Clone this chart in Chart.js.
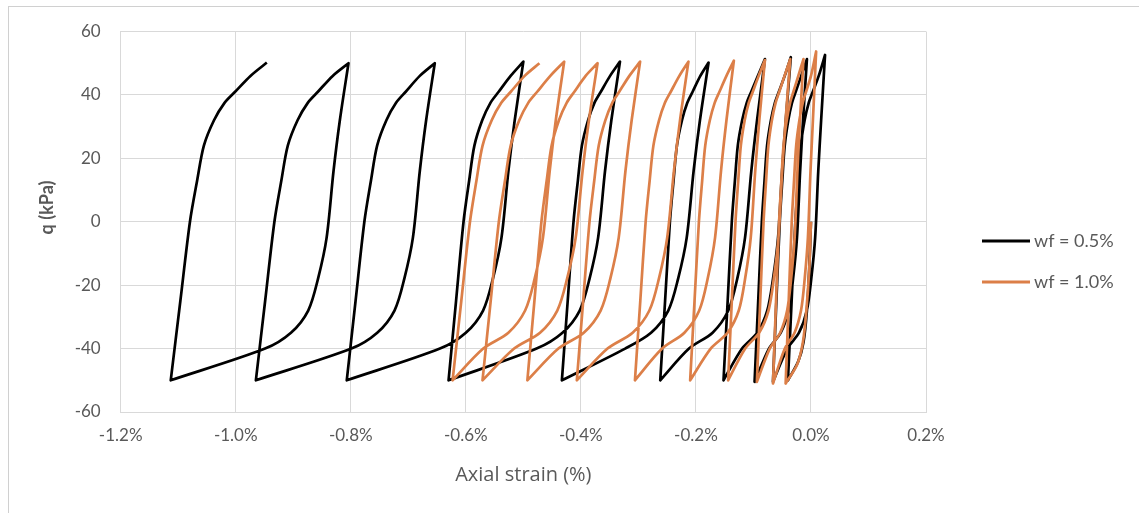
<!DOCTYPE html>
<html>
<head>
<meta charset="utf-8">
<script src="https://cdn.jsdelivr.net/npm/chart.js@4.4.1/dist/chart.umd.min.js"></script>
<style>
html, body { margin: 0; padding: 0; background: #fff; overflow: hidden; }
#frame { position: absolute; left: 8px; top: 6px; width: 1200px; height: 600px; border: 1px solid #d0d0d0; }
#wrap { position: absolute; left: 0; top: 0; width: 1139px; height: 513px; }
</style>
</head>
<body>
<div id="frame"></div>
<div id="wrap"><canvas id="chart" width="1139" height="513"></canvas></div>
<script>
// ===== Cyclic loading loops: deviator stress vs axial strain =====

const seriesLabels = ['wf = 0.5%', 'wf = 1.0%'];
const seriesColors = ['#000000', '#dc7f48'];

const xTicks = [-1.2, -1.0, -0.8, -0.6, -0.4, -0.2, 0.0, 0.2];
const yTicks = [-60, -40, -20, 0, 20, 40, 60];

// axial strain (%) for wf = 0.5%, in test order (loops drift to the left)
const blackStrain = [
    0.000, -0.003, -0.007, -0.013, -0.022,
    -0.040, -0.0336, -0.0271, -0.0223, -0.0177, -0.0110, -0.0039, 0.0032, 0.0135, 0.0245,
    0.0177, 0.0127, 0.0073, 0.0005, -0.0072, -0.0208, -0.0411, -0.066,
    -0.0601, -0.0542, -0.0498, -0.0456, -0.0394, -0.0330, -0.0265, -0.0170, -0.007,
    -0.0138, -0.0188, -0.0243, -0.0311, -0.0389, -0.0525, -0.0730, -0.098,
    -0.0917, -0.0854, -0.0807, -0.0763, -0.0696, -0.0627, -0.0558, -0.0457, -0.035,
    -0.0438, -0.0502, -0.0572, -0.0660, -0.0760, -0.0935, -0.1198, -0.152,
    -0.1448, -0.1376, -0.1322, -0.1272, -0.1196, -0.1117, -0.1038, -0.0922, -0.080,
    -0.0937, -0.1037, -0.1146, -0.1282, -0.1437, -0.171, -0.212, -0.262,
    -0.2536, -0.2452, -0.2389, -0.2330, -0.2242, -0.2150, -0.2057, -0.1923, -0.178,
    -0.193, -0.204, -0.216, -0.231, -0.248, -0.278, -0.323, -0.433,
    -0.4229, -0.4128, -0.4052, -0.3982, -0.3875, -0.3764, -0.3653, -0.3492, -0.332,
    -0.347, -0.358, -0.370, -0.385, -0.402, -0.432, -0.477, -0.630,
    -0.617, -0.604, -0.5942, -0.5851, -0.5715, -0.5572, -0.5429, -0.5221, -0.500,
    -0.515, -0.526, -0.538, -0.553, -0.570, -0.600, -0.645, -0.807,
    -0.7917, -0.7764, -0.7649, -0.7542, -0.7381, -0.7213, -0.7045, -0.6800, -0.654,
    -0.669, -0.680, -0.692, -0.707, -0.724, -0.754, -0.799, -0.965,
    -0.9489, -0.9328, -0.9207, -0.9095, -0.8925, -0.8748, -0.8571, -0.8314, -0.804,
    -0.819, -0.830, -0.842, -0.857, -0.874, -0.904, -0.949, -1.113,
    -1.0963, -1.0796, -1.0671, -1.0554, -1.0378, -1.0195, -1.0011, -0.9744, -0.946
];
// q (kPa) for wf = 0.5%
const blackQ = [
    0, -15, -28, -38, -44,
    -50, -25, 0, 13, 24, 32, 37.5, 41, 46, 52.6,
    32, 16, -5, -18, -28, -35, -40, -50.5,
    -25, 0, 13, 24, 32, 37.5, 41, 46, 51.3,
    32, 16, -5, -18, -28, -35, -40, -50.5,
    -25, 0, 13, 24, 32, 37.5, 41, 46, 51.9,
    32, 16, -5, -18, -28, -35, -40, -50,
    -25, 0, 13, 24, 32, 37.5, 41, 46, 51.3,
    32, 16, -5, -18, -28, -35, -40, -50,
    -25, 0, 13, 24, 32, 37.5, 41, 46, 50.2,
    32, 16, -5, -18, -28, -35, -40, -50,
    -25, 0, 13, 24, 32, 37.5, 41, 46, 50.5,
    32, 16, -5, -18, -28, -35, -40, -50,
    -25, 0, 13, 24, 32, 37.5, 41, 46, 50.5,
    32, 16, -5, -18, -28, -35, -40, -50,
    -25, 0, 13, 24, 32, 37.5, 41, 46, 50,
    32, 16, -5, -18, -28, -35, -40, -50,
    -25, 0, 13, 24, 32, 37.5, 41, 46, 50,
    32, 16, -5, -18, -28, -35, -40, -50,
    -25, 0, 13, 24, 32, 37.5, 41, 46, 50.2
];

// axial strain (%) for wf = 1.0%
const orangeStrain = [
    0.000, -0.003, -0.008, -0.014, -0.024,
    -0.044, -0.0387, -0.0334, -0.0294, -0.0257, -0.0201, -0.0143, -0.0085, 0.0000, 0.009,
    0.0034, -0.0008, -0.0053, -0.0109, -0.0173, -0.0285, -0.0454, -0.066,
    -0.0607, -0.0554, -0.0514, -0.0477, -0.0421, -0.0363, -0.0305, -0.0220, -0.013,
    -0.0191, -0.0235, -0.0284, -0.0345, -0.0414, -0.0535, -0.0717, -0.094,
    -0.0882, -0.0824, -0.0780, -0.0740, -0.0679, -0.0615, -0.0551, -0.0459, -0.036,
    -0.0441, -0.0500, -0.0565, -0.0646, -0.0738, -0.090, -0.1143, -0.144,
    -0.1376, -0.1312, -0.1264, -0.1219, -0.1152, -0.1082, -0.1011, -0.0909, -0.080,
    -0.0898, -0.0969, -0.1047, -0.1145, -0.1255, -0.145, -0.1743, -0.210,
    -0.2024, -0.1948, -0.1891, -0.1838, -0.1758, -0.1674, -0.1591, -0.1469, -0.134,
    -0.1469, -0.1564, -0.1667, -0.1796, -0.1942, -0.220, -0.2587, -0.306,
    -0.2967, -0.2874, -0.2804, -0.2739, -0.2641, -0.2539, -0.2437, -0.2288, -0.213,
    -0.2276, -0.2382, -0.2499, -0.2644, -0.2809, -0.310, -0.3537, -0.407,
    -0.396, -0.385, -0.3767, -0.369, -0.3575, -0.3454, -0.3333, -0.3157, -0.297,
    -0.3117, -0.3225, -0.3342, -0.3489, -0.3656, -0.395, -0.4391, -0.493,
    -0.4808, -0.4686, -0.4594, -0.4509, -0.4381, -0.4247, -0.4113, -0.3917, -0.371,
    -0.386, -0.397, -0.409, -0.424, -0.441, -0.471, -0.516, -0.571,
    -0.5568, -0.5426, -0.5319, -0.5220, -0.5071, -0.4915, -0.4759, -0.4531, -0.429,
    -0.4436, -0.4542, -0.4659, -0.4804, -0.4969, -0.526, -0.5697, -0.623,
    -0.6079, -0.5928, -0.5815, -0.5709, -0.5550, -0.5384, -0.5218, -0.4977, -0.472
];
// q (kPa) for wf = 1.0%
const orangeQ = [
    0, -15, -28, -38, -45,
    -51, -25, 0, 13, 24, 32, 37.5, 41, 46, 53.7,
    32, 16, -5, -18, -28, -35, -40, -51,
    -25, 0, 13, 24, 32, 37.5, 41, 46, 51.3,
    32, 16, -5, -18, -28, -35, -40, -50.5,
    -25, 0, 13, 24, 32, 37.5, 41, 46, 51.3,
    32, 16, -5, -18, -28, -35, -40, -50,
    -25, 0, 13, 24, 32, 37.5, 41, 46, 51,
    32, 16, -5, -18, -28, -35, -40, -50,
    -25, 0, 13, 24, 32, 37.5, 41, 46, 50.8,
    32, 16, -5, -18, -28, -35, -40, -50,
    -25, 0, 13, 24, 32, 37.5, 41, 46, 50.5,
    32, 16, -5, -18, -28, -35, -40, -50,
    -25, 0, 13, 24, 32, 37.5, 41, 46, 50.5,
    32, 16, -5, -18, -28, -35, -40, -50,
    -25, 0, 13, 24, 32, 37.5, 41, 46, 50,
    32, 16, -5, -18, -28, -35, -40, -50,
    -25, 0, 13, 24, 32, 37.5, 41, 46, 50.5,
    32, 16, -5, -18, -28, -35, -40, -50,
    -25, 0, 13, 24, 32, 37.5, 41, 46, 50
];

const FONT = 'Lato, "Liberation Sans", sans-serif';
const TEXT = '#595959';
const GRID = '#d9d9d9';

// turning points (load reversals) are listed twice so the smoothed line keeps a sharp corner there
function toPoints(xs, ys) {
    const pts = [];
    xs.forEach((x, i) => {
        pts.push({ x, y: ys[i] });
        const prev = ys[i - 1], next = ys[i + 1];
        if (prev !== undefined && next !== undefined &&
            ((ys[i] > prev && ys[i] > next) || (ys[i] < prev && ys[i] < next))) {
            pts.push({ x, y: ys[i] });
        }
    });
    return pts;
}

function fmtPct(v) {
    if (Math.abs(v) < 1e-9) v = 0;
    return v.toFixed(1) + '%';
}

// legend at the right and the vertical axis title, placed like the spreadsheet ones
const sideText = {
    id: 'sideText',
    afterDraw(chart) {
        const { ctx } = chart;
        const rows = [241, 282];
        ctx.save();
        chart.data.datasets.forEach(ds => {
            const y = rows[seriesLabels.indexOf(ds.label)];
            ctx.strokeStyle = ds.borderColor;
            ctx.lineWidth = 3;
            ctx.beginPath();
            ctx.moveTo(982, y);
            ctx.lineTo(1030, y);
            ctx.stroke();
            ctx.fillStyle = TEXT;
            ctx.font = '18px ' + FONT;
            ctx.textBaseline = 'middle';
            ctx.textAlign = 'left';
            ctx.fillText(ds.label, 1034, y);
        });
        ctx.translate(47, 207.5);
        ctx.rotate(-Math.PI / 2);
        ctx.font = 'bold 18px ' + FONT;
        ctx.textAlign = 'center';
        ctx.textBaseline = 'middle';
        ctx.fillStyle = TEXT;
        ctx.fillText('q (kPa)', 0, 0);
        ctx.restore();
    }
};

function lineSet(i, xs, ys, order) {
    return {
        label: seriesLabels[i],
        data: toPoints(xs, ys),
        borderColor: seriesColors[i],
        backgroundColor: seriesColors[i],
        borderWidth: 2.7,
        showLine: true,
        pointRadius: 0,
        tension: 0.3,
        borderJoinStyle: 'round',
        order
    };
}

new Chart(document.getElementById('chart'), {
    type: 'scatter',
    data: {
        datasets: [
            lineSet(0, blackStrain, blackQ, 2),
            lineSet(1, orangeStrain, orangeQ, 1)   // drawn on top
        ]
    },
    options: {
        responsive: false,
        animation: false,
        layout: { padding: { left: 0, top: 31.5, right: 213, bottom: 0 } },
        plugins: { legend: { display: false }, tooltip: { enabled: false } },
        scales: {
            x: {
                type: 'linear',
                min: -1.2,
                max: 0.2,
                afterBuildTicks: s => { s.ticks = xTicks.map(v => ({ value: v })); },
                afterFit: s => { s.height = 101; },
                ticks: { color: TEXT, font: { family: FONT, size: 17 }, padding: 13, callback: v => fmtPct(v), maxRotation: 0 },
                grid: { color: GRID, lineWidth: 1, drawTicks: false },
                border: { color: GRID },
                title: { display: true, text: 'Axial strain (%)', color: TEXT, font: { family: '"Open Sans", ' + FONT, size: 20 }, padding: { top: 0, bottom: 26 } }
            },
            y: {
                type: 'linear',
                min: -60,
                max: 60,
                afterBuildTicks: s => { s.ticks = yTicks.map(v => ({ value: v })); },
                afterFit: s => { s.width = 120.7; },
                ticks: { color: TEXT, font: { family: FONT, size: 17 }, padding: 20 },
                grid: { color: GRID, lineWidth: 1, drawTicks: false },
                border: { color: GRID },
                title: { display: false }
            }
        }
    },
    plugins: [sideText]
});
</script>
</body>
</html>
